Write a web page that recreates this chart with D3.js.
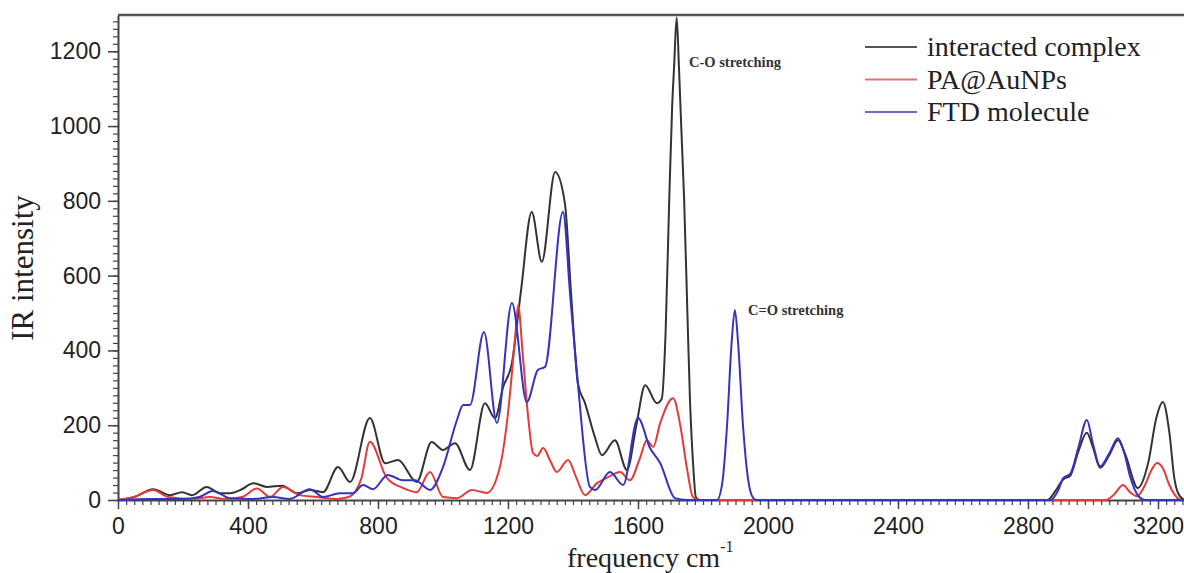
<!DOCTYPE html>
<meta charset="utf-8">
<script src="https://d3js.org/d3.v7.min.js"></script>
<style>
  body { margin: 0; background: #fff; }
</style>
<div id="chart"></div>
<script>

// spectra (frequency in cm-1, IR intensity)
const complexFreq = [0, 50, 108, 160, 197, 228, 273, 314, 345, 380, 416, 458, 505, 551, 590, 631, 677, 714, 775, 822,
  862, 919, 965, 1000, 1037, 1083, 1129, 1160, 1185, 1212, 1240, 1273, 1304, 1345, 1375, 1395, 1415, 1437, 1465, 1489, 1529,
  1566, 1595, 1622, 1658, 1673, 1685, 1696, 1705, 1711, 1719, 1726, 1733, 1742, 1752, 1760, 1770, 1778, 1790, 2860, 2885,
  2908, 2930, 2955, 2981, 3000, 3022, 3050, 3077, 3100, 3138, 3170, 3195, 3215, 3235, 3250, 3262, 3280];
const complexInt = [0, 8, 29, 13, 21, 13, 35, 18, 18, 28, 45, 35, 38, 18, 27, 21, 88, 48, 219, 98,
  107, 48, 155, 134, 152, 80, 259, 219, 302, 366, 560, 770, 637, 877, 794, 540, 312, 259, 175, 120, 160,
  80, 200, 307, 259, 270, 450, 800, 1050, 1158, 1290, 1158, 1000, 802, 500, 267, 90, 8, 0, 0, 25,
  55, 65, 130, 180, 140, 86, 120, 160, 120, 32, 100, 220, 262, 180, 60, 18, 0];

const paFreq = [0, 50, 108, 154, 231, 283, 329, 382, 428, 468, 508, 560, 612, 674, 710, 748, 775, 827, 877, 919,
  960, 1000, 1043, 1089, 1135, 1175, 1200, 1222, 1231, 1246, 1262, 1277, 1290, 1308, 1330, 1350, 1385, 1410, 1437, 1474,
  1504, 1545, 1575, 1606, 1627, 1647, 1668, 1708, 1730, 1750, 1769, 1790, 3040, 3065, 3092, 3115, 3135, 3160, 3180, 3197,
  3215, 3235, 3255, 3270, 3280];
const paInt = [0, 8, 27, 8, 3, 8, 3, 8, 31, 8, 35, 13, 8, 3, 8, 55, 156, 59, 32, 21,
  75, 8, 5, 27, 19, 88, 232, 436, 521, 382, 222, 126, 118, 139, 105, 75, 107, 60, 13, 45,
  59, 75, 53, 112, 160, 142, 205, 272, 200, 88, 8, 0, 0, 15, 40, 20, 10, 40, 80, 99,
  85, 40, 10, 0, 0];

const ftdFreq = [0, 100, 200, 250, 292, 345, 416, 477, 529, 590, 631, 683, 723, 754, 785, 830, 877, 914, 960, 1000,
  1043, 1062, 1083, 1126, 1166, 1212, 1258, 1292, 1314, 1369, 1392, 1415, 1452, 1468, 1514, 1554, 1600, 1637, 1668, 1714,
  1750, 1843, 1860, 1874, 1888, 1898, 1908, 1923, 1938, 1955, 1966, 2870, 2895, 2908, 2930, 2955, 2981, 3000, 3022, 3050,
  3077, 3095, 3115, 3140, 3160, 3280];
const ftdInt = [0, 3, 3, 8, 24, 5, 3, 8, 3, 29, 8, 18, 18, 40, 29, 67, 53, 53, 27, 88,
  214, 254, 254, 449, 206, 527, 262, 348, 356, 770, 540, 312, 35, 27, 75, 40, 219, 139, 99, 5,
  0, 0, 50, 200, 420, 508, 420, 200, 60, 5, 0, 0, 30, 58, 70, 140, 214, 150, 90, 125,
  165, 130, 60, 10, 0, 0];

const seriesNames = ["interacted complex", "PA@AuNPs", "FTD molecule"];
const seriesColors = ["#333333", "#e43a3a", "#3434c4"];
const legendColors = ["#555555", "#ea6f6f", "#6b6bc9"];

const xTicks = [0, 400, 800, 1200, 1600, 2000, 2400, 2800, 3200];
const yTicks = [0, 200, 400, 600, 800, 1000, 1200];

// layout
const W = 1184, H = 573;
const plotLeft = 118, plotRight = 1184, plotTop = 15, plotBottom = 500;

const svg = d3.select("#chart").append("svg")
  .attr("width", W)
  .attr("height", H);

const x = d3.scaleLinear().domain([0, 3280]).range([plotLeft, plotRight]);
const y = d3.scaleLinear().domain([0, 1297]).range([plotBottom, plotTop]);

// minor ticks
const xMinor = d3.range(0, 3281, 25);
const yMinor = d3.range(0, 1297, 20);

svg.append("g")
  .attr("transform", `translate(0,${plotBottom})`)
  .call(d3.axisBottom(x).tickValues(xMinor).tickSize(5).tickFormat(""))
  .call(g => g.select(".domain").remove())
  .selectAll("line").attr("stroke", "#444").attr("stroke-width", 1.2);

svg.append("g")
  .attr("transform", `translate(${plotLeft},0)`)
  .call(d3.axisLeft(y).tickValues(yMinor).tickSize(5).tickFormat(""))
  .call(g => g.select(".domain").remove())
  .selectAll("line").attr("stroke", "#444").attr("stroke-width", 1.2);

// major axes
const xAxis = svg.append("g")
  .attr("transform", `translate(0,${plotBottom})`)
  .call(d3.axisBottom(x).tickValues(xTicks).tickFormat(d3.format("d"))
    .tickSize(9).tickSizeOuter(0).tickPadding(9));
xAxis.select(".domain").attr("stroke", "#444").attr("stroke-width", 2);
xAxis.selectAll(".tick line").attr("stroke", "#444").attr("stroke-width", 1.5);
xAxis.selectAll("text")
  .style("font-family", "'Liberation Sans', Arial, sans-serif")
  .style("font-size", "23px")
  .attr("fill", "#222");

const yAxis = svg.append("g")
  .attr("transform", `translate(${plotLeft},0)`)
  .call(d3.axisLeft(y).tickValues(yTicks).tickFormat(d3.format("d"))
    .tickSize(10).tickSizeOuter(0).tickPadding(7));
yAxis.select(".domain").attr("stroke", "#444").attr("stroke-width", 2);
yAxis.selectAll(".tick line").attr("stroke", "#444").attr("stroke-width", 1.5);
yAxis.selectAll("text")
  .style("font-family", "'Liberation Sans', Arial, sans-serif")
  .style("font-size", "23px")
  .attr("fill", "#222");

// top frame line
svg.append("line")
  .attr("x1", plotLeft).attr("x2", plotRight)
  .attr("y1", plotTop).attr("y2", plotTop)
  .attr("stroke", "#555").attr("stroke-width", 2.5);

// curves
const line = d3.line()
  .x(d => x(d[0]))
  .y(d => y(d[1]))
  .curve(d3.curveMonotoneX);

const series = [
  d3.zip(complexFreq, complexInt),
  d3.zip(paFreq, paInt),
  d3.zip(ftdFreq, ftdInt)
];

svg.append("g").selectAll("path")
  .data(series)
  .join("path")
    .attr("d", line)
    .attr("fill", "none")
    .attr("stroke", (d, i) => seriesColors[i])
    .attr("stroke-width", 2)
    .attr("stroke-linejoin", "round");

// annotations
svg.append("text")
  .attr("x", 689).attr("y", 67)
  .style("font-family", "'Liberation Serif', 'Times New Roman', serif")
  .style("font-size", "14.5px")
  .style("font-weight", "bold")
  .attr("fill", "#333")
  .text("C-O stretching");

svg.append("text")
  .attr("x", 748).attr("y", 315)
  .style("font-family", "'Liberation Serif', 'Times New Roman', serif")
  .style("font-size", "14.5px")
  .style("font-weight", "bold")
  .attr("fill", "#333")
  .text("C=O stretching");

// legend
const legend = svg.append("g")
  .selectAll("g")
  .data(seriesNames)
  .join("g")
    .attr("transform", (d, i) => `translate(865,${47 + i * 32.5})`);

legend.append("line")
  .attr("x1", 0).attr("x2", 52)
  .attr("stroke", (d, i) => legendColors[i])
  .attr("stroke-width", 2);

legend.append("text")
  .attr("x", 62).attr("y", 9)
  .style("font-family", "'Liberation Serif', 'Times New Roman', serif")
  .style("font-size", "28px")
  .attr("fill", "#222")
  .text(d => d);

// axis titles
svg.append("text")
  .attr("transform", "translate(33,268) rotate(-90)")
  .attr("text-anchor", "middle")
  .style("font-family", "'Liberation Serif', 'Times New Roman', serif")
  .style("font-size", "31px")
  .attr("fill", "#222")
  .text("IR intensity");

const xt = svg.append("text")
  .attr("x", 567).attr("y", 567)
  .style("font-family", "'Liberation Serif', 'Times New Roman', serif")
  .style("font-size", "28px")
  .attr("fill", "#222");
xt.append("tspan").text("frequency cm");
xt.append("tspan").attr("dy", -15).style("font-size", "16px").text("-1");

</script>
